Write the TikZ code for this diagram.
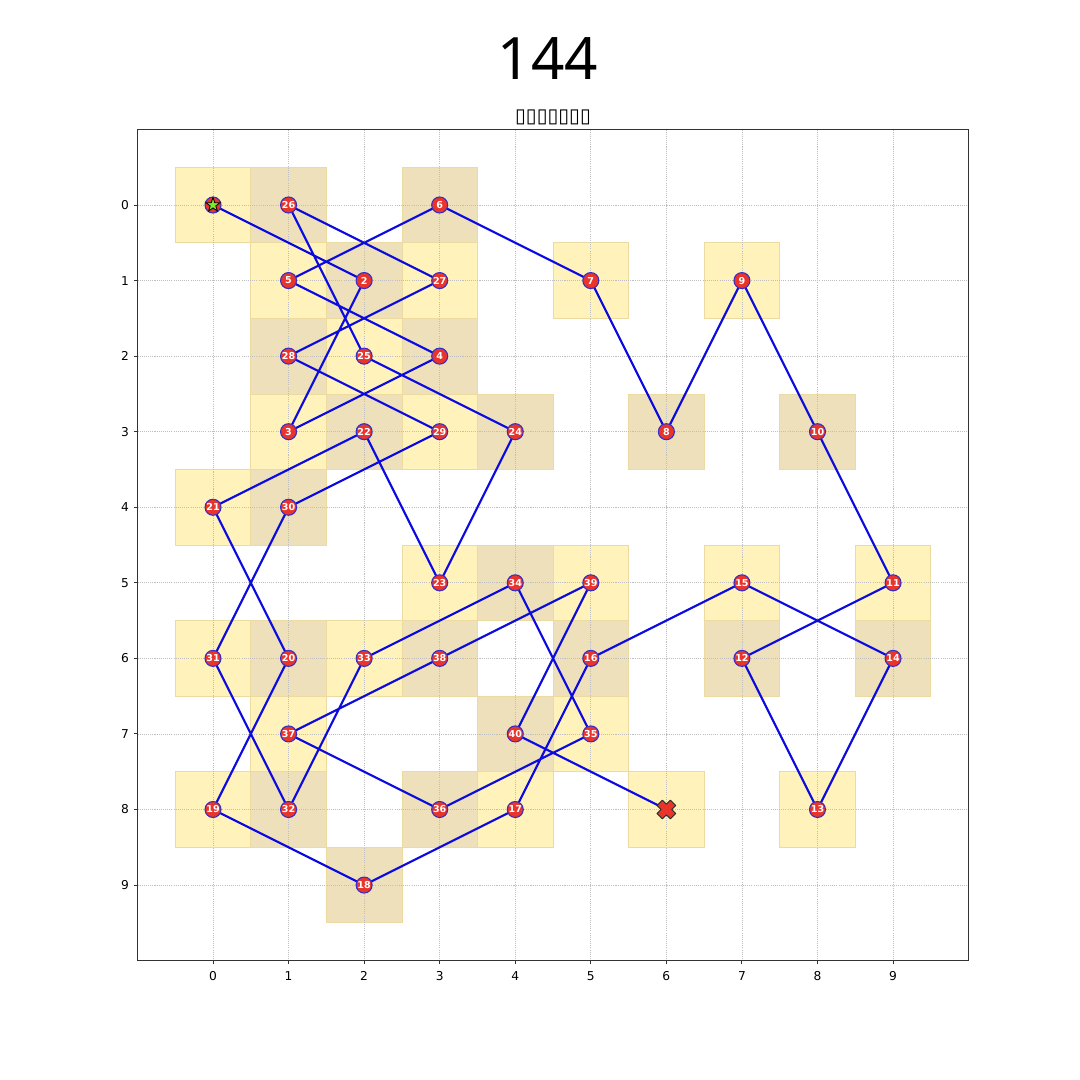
\documentclass[tikz,border=0pt]{standalone}
\usepackage{fontspec}
\setmainfont{DejaVu Sans}
\newfontfamily\titlefont{Noto Sans}
\usetikzlibrary{shapes.geometric}
\definecolor{cellgold}{RGB}{255,242,187}
\definecolor{celltan}{RGB}{237,224,187}
\definecolor{celledge}{RGB}{236,218,160}
\definecolor{dotred}{RGB}{232,52,43}
\definecolor{dotblue}{RGB}{55,45,200}
\definecolor{pathblue}{RGB}{10,10,225}
\definecolor{startgreen}{RGB}{125,235,50}

\begin{document}
\begin{tikzpicture}[
    x=1cm, y=-1cm,
    cell/.style={draw=celledge, line width=0.3pt},
    gridline/.style={black!25, line width=0.3pt, dash pattern=on 0.4pt off 0.4pt},
    hop/.style={draw=pathblue, line width=0.8pt, line join=round},
    visit/.style={circle, fill=dotred, draw=dotblue, line width=0.4pt, inner sep=0pt,
        minimum size=0.212cm, text=white, font=\fontsize{3.6}{4}\selectfont\bfseries},
    ticklabel/.style={font=\fontsize{4.6}{5.5}\selectfont, inner sep=0pt}
]
    \useasboundingbox[fill=white] (-2.819,-2.713) rectangle (11.474,11.58);

    % Titles
    \node[font=\titlefont\fontsize{22}{26}\selectfont] (title) at (4.43,-1.945) {144};
    \node[font=\fontsize{7.4}{9}\selectfont] (subtitle) at (4.5,-1.165) {▯▯▯▯▯▯▯};

    % Visited squares
    \foreach \c/\r in {0/0,1/1,3/1,5/1,7/1,2/2,1/3,3/3,0/4,3/5,5/5,7/5,9/5,0/6,2/6,1/7,5/7,0/8,4/8,6/8,8/8}
        \filldraw[cell, fill=cellgold] (\c-0.5,\r-0.5) rectangle (\c+0.5,\r+0.5);
    \foreach \c/\r in {1/0,3/0,2/1,1/2,3/2,2/3,4/3,6/3,8/3,1/4,4/5,1/6,3/6,5/6,7/6,9/6,4/7,1/8,3/8,2/9}
        \filldraw[cell, fill=celltan] (\c-0.5,\r-0.5) rectangle (\c+0.5,\r+0.5);

    % Grid and axes
    \foreach \i in {0,...,9} {
        \draw[gridline] (\i,-1) -- (\i,10);
        \draw[gridline] (-1,\i) -- (10,\i);
        \draw[black!80, line width=0.35pt] (\i,10) -- (\i,10.046);
        \draw[black!80, line width=0.35pt] (-1,\i) -- (-1.046,\i);
        \node[ticklabel] (xt\i) at (\i,10.2) {\i};
        \node[ticklabel] (yt\i) at (-1.165,\i) {\i};
    }
    \draw[black!80, line width=0.35pt] (-1,-1) rectangle (10,10);

    % Tour squares in order
    \foreach \c/\r [count=\k] in {0/0,2/1,1/3,3/2,1/1,3/0,5/1,6/3,7/1,8/3,9/5,7/6,8/8,9/6,7/5,5/6,4/8,2/9,0/8,1/6,
        0/4,2/3,3/5,4/3,2/2,1/0,3/1,1/2,3/3,1/4,0/6,1/8,2/6,4/5,5/7,3/8,1/7,3/6,5/5,4/7,6/8}
        \coordinate (p\k) at (\c,\r);

    % Moves
    \draw[hop] (p1) \foreach \k in {2,...,41} { -- (p\k) };

    % Numbered stops
    \foreach \k in {2,...,40}
        \node[visit] (n\k) at (p\k) {\k};

    % Start and end
    \node[visit] (n1) at (p1) {};
    \node[star, star points=5, star point ratio=2.6, fill=startgreen, draw=black,
        line width=0.3pt, inner sep=0pt, minimum size=0.2cm] (start) at (p1) {};
    \filldraw[fill=dotred, draw=black!85, line width=0.35pt, line join=round, shift={(p41)}, rotate=45]
        (0.05,0.125) -- (0.05,0.05) -- (0.125,0.05) -- (0.125,-0.05) -- (0.05,-0.05) -- (0.05,-0.125)
        -- (-0.05,-0.125) -- (-0.05,-0.05) -- (-0.125,-0.05) -- (-0.125,0.05) -- (-0.05,0.05) -- (-0.05,0.125) -- cycle;
\end{tikzpicture}
\end{document}
